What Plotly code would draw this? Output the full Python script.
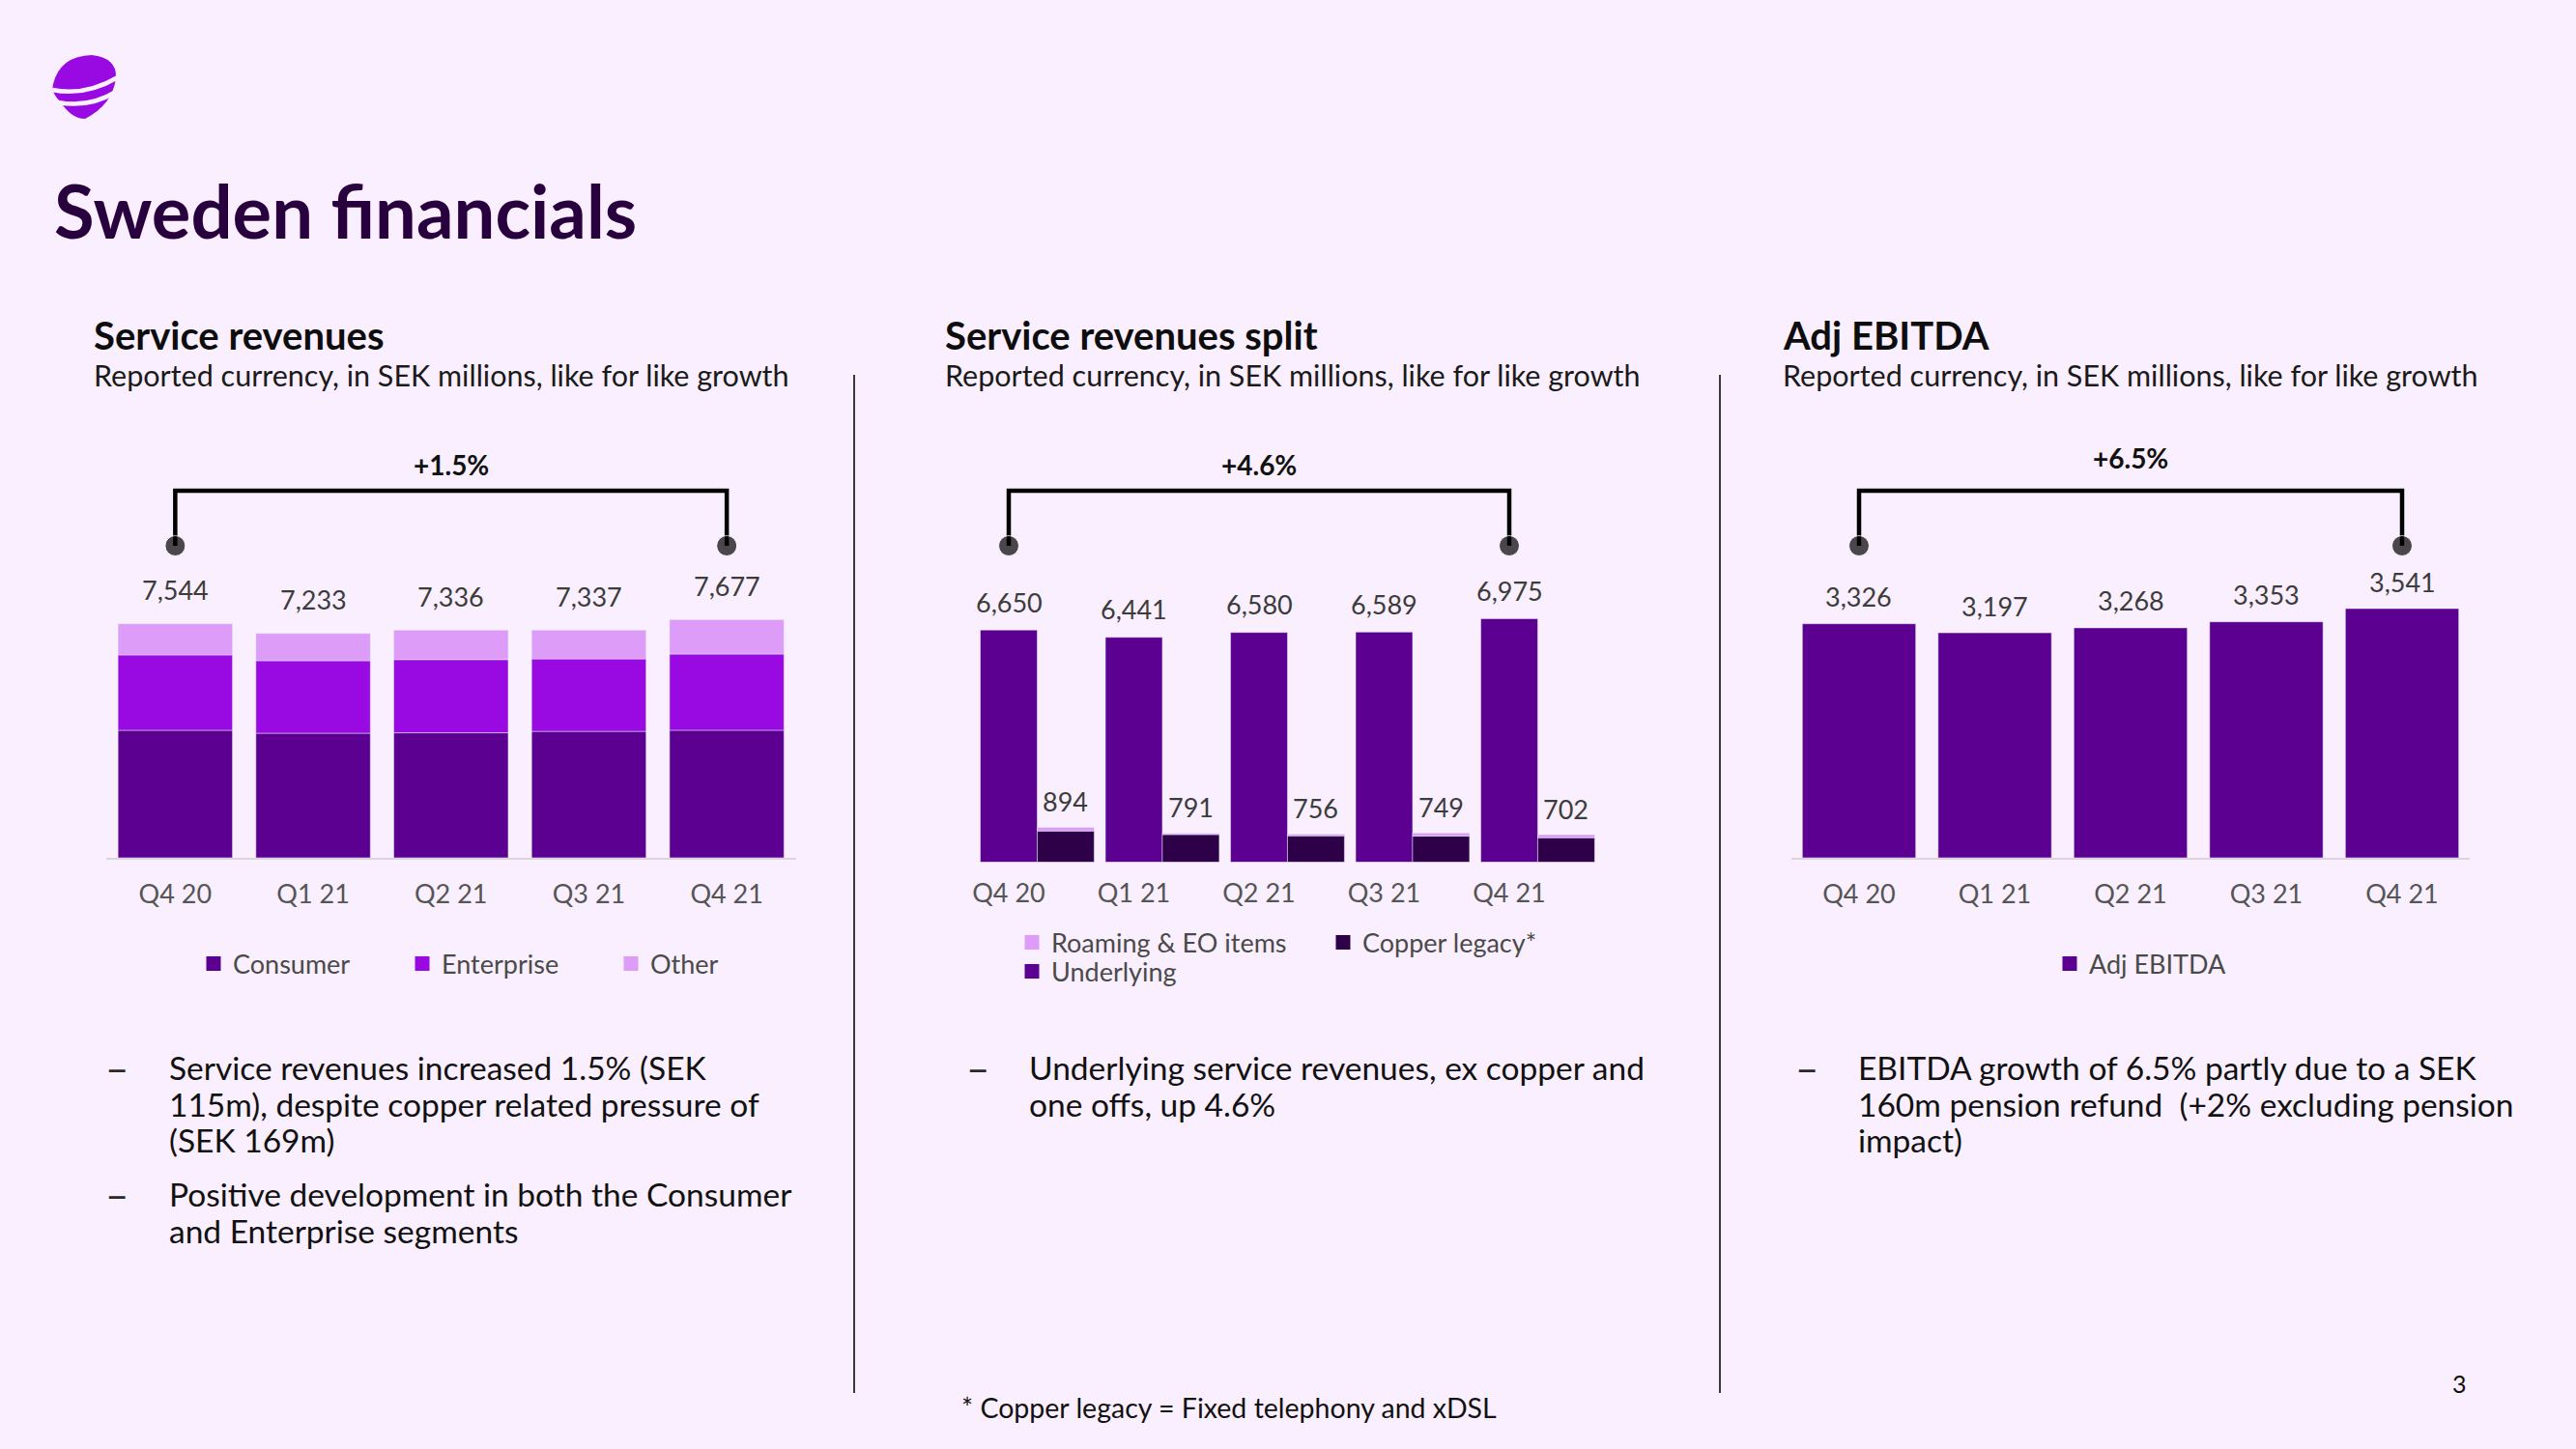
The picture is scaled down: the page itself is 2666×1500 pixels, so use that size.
import plotly.graph_objects as go

W, H = 2666, 1500
BG = "#FAEFFE"
FONT = "Lato"

# ---------------- data ----------------
quarters = ["Q4 20", "Q1 21", "Q2 21", "Q3 21", "Q4 21"]
consumer = [4110, 4015, 4029, 4076, 4112]
enterprise = [2430, 2338, 2360, 2335, 2456]
other = [1004, 880, 947, 926, 1109]
sr_totals = [7544, 7233, 7336, 7337, 7677]
underlying = [6650, 6441, 6580, 6589, 6975]
copper = [894, 791, 756, 749, 702]
roaming = [105, 30, 45, 85, 85]
ebitda = [3326, 3197, 3268, 3353, 3541]
growth_labels = ["+1.5%", "+4.6%", "+6.5%"]

# ---------------- colours ----------------
C_DEEP = "#5C0092"
C_CORE = "#990AE3"
C_LIGHT = "#DC9CF7"
C_DARK = "#2D0048"
TXT = "#3C3C3C"

def px(x):
    return x / W

def py(y):
    return 1 - y / H

# layout geometry (pixels)
G = {
    1: dict(x0=110.0, step=142.7, lo=-0.5, hi=4.5, base=888.0, ppu=0.03212, top=440.0),
    2: dict(x0=None, step=129.5, lo=-0.6, hi=4.9, base=892.5, ppu=0.03614, top=440.0, c0=1044.0),
    3: dict(x0=1853.75, step=140.5, lo=-0.5, hi=4.5, base=888.0, ppu=0.07285, top=440.0),
}

def xdomain(k):
    g = G[k]
    if g["x0"] is None:
        a = g["c0"] + g["lo"] * g["step"]
    else:
        a = g["x0"]
    b = a + (g["hi"] - g["lo"]) * g["step"]
    return [px(a), px(b)]

def yinfo(k):
    g = G[k]
    return [py(g["base"]), py(g["top"])], [0, (g["base"] - g["top"]) / g["ppu"]]

def val_at(k, ypix):
    g = G[k]
    return (g["base"] - ypix) / g["ppu"]

fig = go.Figure()

# ---------- chart 1: stacked service revenues ----------
fig.add_bar(x=quarters, y=consumer, name="Consumer", marker_color=C_DEEP,
            width=0.83, xaxis="x", yaxis="y", showlegend=False)
fig.add_bar(x=quarters, y=enterprise, base=consumer, name="Enterprise",
            marker_color=C_CORE, width=0.83, xaxis="x", yaxis="y",
            showlegend=False)
base_other = [c + e for c, e in zip(consumer, enterprise)]
fig.add_bar(x=quarters, y=other, base=base_other, name="Other",
            marker_color=C_LIGHT, width=0.83, xaxis="x", yaxis="y",
            showlegend=False)

# ---------- chart 2: split ----------
bw2 = 0.455
fig.add_bar(x=quarters, y=underlying, name="Underlying", marker_color=C_DEEP,
            width=bw2, offset=-bw2 / 2, xaxis="x2", yaxis="y2", showlegend=False)
fig.add_bar(x=quarters, y=copper, name="Copper legacy*", marker_color=C_DARK,
            width=bw2, offset=bw2 / 2, xaxis="x2", yaxis="y2", showlegend=False)
fig.add_bar(x=quarters, y=roaming, base=copper, name="Roaming & EO items",
            marker_color=C_LIGHT, width=bw2, offset=bw2 / 2, xaxis="x2",
            yaxis="y2", showlegend=False)

# ---------- chart 3: EBITDA ----------
fig.add_bar(x=quarters, y=ebitda, name="Adj EBITDA", marker_color=C_DEEP,
            width=0.835, xaxis="x3", yaxis="y3", showlegend=False)

# ---------- legend entries (square swatches) ----------
legend_items = [
    ("Consumer", C_DEEP, "legend", "x", "y", 1),
    ("Enterprise", C_CORE, "legend", "x", "y", 2),
    ("Other", C_LIGHT, "legend", "x", "y", 3),
    ("Roaming & EO items", C_LIGHT, "legend2", "x2", "y2", 1),
    ("Copper legacy*", C_DARK, "legend2", "x2", "y2", 2),
    ("Underlying", C_DEEP, "legend3", "x2", "y2", 1),
    ("Adj EBITDA", C_DEEP, "legend4", "x3", "y3", 1),
]
for name, col, leg, xa, ya, rank in legend_items:
    fig.add_scatter(x=[None], y=[None], mode="markers", name=name,
                    marker=dict(symbol="square", size=15, color=col),
                    xaxis=xa, yaxis=ya, legend=leg, legendrank=rank,
                    hoverinfo="skip")

# ---------- growth brackets ----------
for k, ax in zip((1, 2, 3), ("", "2", "3")):
    dot = val_at(k, 565)
    top = val_at(k, 508)
    fig.add_scatter(x=[quarters[0], quarters[0], quarters[-1], quarters[-1]],
                    y=[dot, top, top, dot], mode="lines+markers",
                    line=dict(color="black", width=4.5),
                    marker=dict(size=[21, 0, 0, 21], color="black"),
                    xaxis="x" + ax, yaxis="y" + ax, showlegend=False,
                    cliponaxis=False, hoverinfo="skip")

annotations = []

def add_text(x, y, text, size, color="#111111", bold=False, xanchor="left",
             yanchor="middle", **kw):
    t = "<b>%s</b>" % text if bold else text
    annotations.append(dict(x=x, y=y, text=t, showarrow=False,
                            xanchor=xanchor, yanchor=yanchor,
                            font=dict(family=FONT, size=size, color=color), **kw))

# growth labels
for k, ax, lab, yl in zip((1, 2, 3), ("", "2", "3"), growth_labels, (481, 481, 474)):
    annotations.append(dict(x=2, y=val_at(k, yl), xref="x" + ax, yref="y" + ax,
                            text="<b>%s</b>" % lab, showarrow=False,
                            xanchor="center", yanchor="middle",
                            font=dict(family=FONT, size=28, color="#111111")))

# value labels
for i, v in enumerate(sr_totals):
    annotations.append(dict(x=i, y=v, xref="x", yref="y", text=f"{v:,}",
                            showarrow=False, yanchor="middle", yshift=35,
                            font=dict(family=FONT, size=27, color=TXT)))
for i, v in enumerate(underlying):
    annotations.append(dict(x=i, y=v, xref="x2", yref="y2", text=f"{v:,}",
                            showarrow=False, yanchor="middle", yshift=29,
                            font=dict(family=FONT, size=27, color=TXT)))
for i, (c, r) in enumerate(zip(copper, roaming)):
    annotations.append(dict(x=i + bw2, y=c + r, xref="x2", yref="y2",
                            text=f"{c:,}", showarrow=False, yanchor="middle",
                            yshift=27,
                            font=dict(family=FONT, size=27, color=TXT)))
for i, v in enumerate(ebitda):
    annotations.append(dict(x=i, y=v, xref="x3", yref="y3", text=f"{v:,}",
                            showarrow=False, yanchor="middle", yshift=28,
                            font=dict(family=FONT, size=27, color=TXT)))

# titles
add_text(px(54), py(217), "Sweden financials", 76, color="#29003E", bold=True,
         xref="paper", yref="paper")
sec_x = [95, 976, 1843]
sec_titles = ["Service revenues", "Service revenues split", "Adj EBITDA"]
for x, t in zip(sec_x, sec_titles):
    add_text(px(x), py(347), t, 40, color="#0D0D0D", bold=True,
             xref="paper", yref="paper")
    add_text(px(x), py(388), "Reported currency, in SEK millions, like for like growth",
             30.5, color="#1A1A1A", xref="paper", yref="paper")

# bullets
bullets = [
    (107, 173, [(1105, "Service revenues increased 1.5% (SEK", True),
                (1143, "115m), despite copper related pressure of", False),
                (1180, "(SEK 169m)", False),
                (1236, "Positive development in both the Consumer", True),
                (1274, "and Enterprise segments", False)]),
    (998, 1063, [(1105, "Underlying service revenues, ex copper and", True),
                 (1143, "one offs, up 4.6%", False)]),
    (1856, 1921, [(1105, "EBITDA growth of 6.5% partly due to a SEK", True),
                  (1143, "160m pension refund  (+2% excluding pension", False),
                  (1180, "impact)", False)]),
]
for dx, tx, lines in bullets:
    for y, t, dash in lines:
        if dash:
            add_text(px(dx), py(y), "–", 42, color="#2A2A2A",
                     xref="paper", yref="paper")
        add_text(px(tx), py(y), t, 33.5, color="#111111", xref="paper", yref="paper")

add_text(px(993), py(1457), "* Copper legacy = Fixed telephony and xDSL", 28.5,
         color="#111111", xref="paper", yref="paper")
add_text(px(2545), py(1432), "3", 25, color="#111111", xanchor="center",
         xref="paper", yref="paper")

# ---------- shapes: dividers + logo ----------
shapes = []
for x in (884, 1780):
    shapes.append(dict(type="line", xref="paper", yref="paper",
                       x0=px(x), x1=px(x), y0=py(388), y1=py(1442),
                       line=dict(color="#3A3A3A", width=2)))

def P(x, y):
    return "%.5f,%.5f" % (px(x), py(y))

logo = ("M " + P(55, 87) + " Q " + P(62, 58) + " " + P(95, 57) +
        " Q " + P(121, 60) + " " + P(120, 80) +
        " Q " + P(117, 108) + " " + P(88, 123) +
        " Q " + P(74, 123) + " " + P(63, 106) +
        " Q " + P(52, 95) + " " + P(55, 87) + " Z")
shapes.append(dict(type="path", xref="paper", yref="paper", path=logo,
                   fillcolor=C_CORE, line=dict(width=0)))
for (a, b, c) in (((54, 93), (88, 100), (122, 80)), ((60, 106), (92, 112), (120, 95))):
    shapes.append(dict(type="path", xref="paper", yref="paper",
                       path="M " + P(*a) + " Q " + P(*b) + " " + P(*c),
                       line=dict(color=BG, width=4.5)))

# ---------- axes ----------
axis_font = dict(family=FONT, size=27, color="#555555")
layout_axes = {}
for k, ax in zip((1, 2, 3), ("", "2", "3")):
    ydom, yr = yinfo(k)
    layout_axes["xaxis" + ax] = dict(
        domain=xdomain(k), range=[G[k]["lo"], G[k]["hi"]], type="category",
        categoryorder="array", categoryarray=quarters, anchor="y" + ax,
        showgrid=False, zeroline=False, showline=(k != 2), linecolor="#DCD3DF",
        linewidth=2, ticks="", tickfont=axis_font, ticklabelstandoff=13,
        fixedrange=True)
    layout_axes["yaxis" + ax] = dict(
        domain=ydom, range=yr, anchor="x" + ax, visible=False,
        showgrid=False, zeroline=False, fixedrange=True)

leg_font = dict(family=FONT, size=27, color="#4A4A4A")
def legend(x, y, ew):
    return dict(orientation="h", x=px(x), y=py(y), xanchor="left",
                yanchor="middle", bgcolor="rgba(0,0,0,0)", font=leg_font,
                entrywidth=ew, entrywidthmode="pixels", traceorder="normal",
                itemclick=False, itemdoubleclick=False, itemwidth=30)

fig.update_layout(
    width=W, height=H, margin=dict(l=0, r=0, t=0, b=0),
    paper_bgcolor=BG, plot_bgcolor=BG, barmode="overlay",
    font=dict(family=FONT),
    legend=legend(201, 998, 171),
    legend2=legend(1048, 976, 277),
    legend3=legend(1048, 1006, 200),
    legend4=legend(2122, 998, 200),
    annotations=annotations, shapes=shapes, showlegend=True,
    **layout_axes,
)

fig.write_html("out.html")
